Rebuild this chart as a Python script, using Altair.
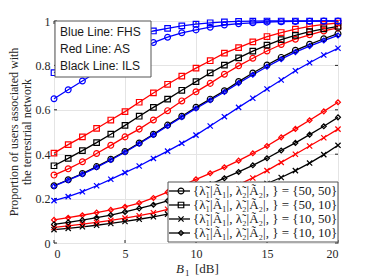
import altair as alt
import pandas as pd

# ---- data ----
b1_db = list(range(21))
x_ticks = [0, 5, 10, 15, 20]
y_ticks = [0, 0.2, 0.4, 0.6, 0.8, 1]

fhs_50_50 = [0.650, 0.690, 0.730, 0.770, 0.800, 0.835, 0.868, 0.903, 0.927, 0.947, 0.960,
             0.972, 0.982, 0.988, 0.992, 0.995, 0.997, 0.998, 0.999, 1.000, 1.000]
fhs_50_10 = [0.767, 0.800, 0.830, 0.860, 0.885, 0.908, 0.932, 0.955, 0.967, 0.978, 0.986,
             0.992, 0.996, 0.998, 0.999, 1.000, 1.000, 1.000, 1.000, 1.000, 1.000]
fhs_10_50 = [0.191, 0.209, 0.231, 0.258, 0.287, 0.317, 0.347, 0.381, 0.414, 0.449, 0.486,
             0.527, 0.569, 0.611, 0.652, 0.694, 0.734, 0.776, 0.812, 0.847, 0.877]
fhs_10_10 = [0.256, 0.283, 0.310, 0.341, 0.374, 0.409, 0.447, 0.487, 0.527, 0.567, 0.606,
             0.643, 0.680, 0.720, 0.758, 0.794, 0.828, 0.860, 0.887, 0.912, 0.935]

as_50_50 = [0.306, 0.334, 0.366, 0.403, 0.440, 0.478, 0.513, 0.554, 0.596, 0.640, 0.681,
            0.719, 0.760, 0.798, 0.832, 0.865, 0.894, 0.918, 0.938, 0.955, 0.969]
as_50_10 = [0.405, 0.443, 0.478, 0.516, 0.554, 0.592, 0.634, 0.676, 0.715, 0.752, 0.788,
            0.821, 0.855, 0.880, 0.906, 0.930, 0.948, 0.963, 0.976, 0.985, 0.991]
as_10_50 = [0.070, 0.077, 0.085, 0.093, 0.102, 0.112, 0.123, 0.136, 0.152, 0.170, 0.190,
            0.212, 0.236, 0.263, 0.293, 0.326, 0.363, 0.400, 0.437, 0.474, 0.513]
as_10_10 = [0.104, 0.114, 0.125, 0.137, 0.149, 0.163, 0.180, 0.203, 0.229, 0.258, 0.287,
            0.314, 0.341, 0.371, 0.404, 0.437, 0.476, 0.514, 0.553, 0.593, 0.634]

ils_50_50 = [0.258, 0.285, 0.313, 0.344, 0.377, 0.412, 0.450, 0.490, 0.531, 0.571, 0.611,
             0.648, 0.686, 0.727, 0.766, 0.802, 0.836, 0.868, 0.895, 0.920, 0.943]
ils_50_10 = [0.348, 0.381, 0.416, 0.452, 0.490, 0.530, 0.571, 0.611, 0.648, 0.688, 0.727,
             0.766, 0.801, 0.834, 0.864, 0.891, 0.916, 0.935, 0.952, 0.965, 0.976]
ils_10_50 = [0.060, 0.066, 0.073, 0.080, 0.088, 0.097, 0.107, 0.118, 0.130, 0.143, 0.158,
             0.175, 0.194, 0.220, 0.243, 0.268, 0.295, 0.326, 0.360, 0.398, 0.440]
ils_10_10 = [0.084, 0.093, 0.103, 0.114, 0.126, 0.140, 0.156, 0.172, 0.190, 0.211, 0.237,
             0.264, 0.292, 0.320, 0.350, 0.382, 0.417, 0.451, 0.488, 0.526, 0.566]

schemes = ["AS", "ILS", "FHS"]          # drawing order: red, black, blue
markers = ["c", "s", "x", "d"]          # {50,50}, {50,10}, {10,50}, {10,10}
values = {
    "AS": [as_50_50, as_50_10, as_10_50, as_10_10],
    "ILS": [ils_50_50, ils_50_10, ils_10_50, ils_10_10],
    "FHS": [fhs_50_50, fhs_50_10, fhs_10_50, fhs_10_10],
}
legend_labels = [
    "{λ̃₁|Ã₁|, λ̃₂|Ã₂|, } = {50, 50}",
    "{λ̃₁|Ã₁|, λ̃₂|Ã₂|, } = {50, 10}",
    "{λ̃₁|Ã₁|, λ̃₂|Ã₂|, } = {10, 50}",
    "{λ̃₁|Ã₁|, λ̃₂|Ã₂|, } = {10, 10}",
]
note_lines = ["Blue Line: FHS", "Red Line: AS", "Black Line: ILS"]
ytitle_lines = ["Proportion of users associated with", "the terrestrial network"]

rows = []
sid = 0
for sch in schemes:
    for mk, vals in zip(markers, values[sch]):
        for xv, yv in zip(b1_db, vals):
            rows.append({"x": xv, "y": yv, "scheme": sch, "marker": mk, "sid": sid})
        sid += 1
df = pd.DataFrame(rows)

# ---- layout ----
W, H = 284, 222
XMAX = 20.0
INK = "#262626"


def dx(px):
    return px / W * XMAX


def dy(py):
    return 1 - py / H


color_scale = alt.Scale(domain=["FHS", "AS", "ILS"], range=["#0000ff", "#ff0000", "#000000"])
X_PATH = "M-1,-1L1,1M1,-1L-1,1"
shape_scale = alt.Scale(domain=markers, range=["circle", "square", X_PATH, "diamond"])
size_scale = alt.Scale(domain=markers, range=[34, 24, 26, 40])
xs = alt.Scale(domain=[0, 20], nice=False, zero=False)
ys = alt.Scale(domain=[0, 1], nice=False)

X = alt.X("x:Q", scale=xs, axis=alt.Axis(values=x_ticks, title=None, labelPadding=5))
Y = alt.Y("y:Q", scale=ys, axis=alt.Axis(
    values=y_ticks, format="~g", labelPadding=4, title=None))

base = alt.Chart(df)
lines = base.mark_line(strokeWidth=1.3).encode(
    x=X, y=Y, color=alt.Color("scheme:N", scale=color_scale, legend=None), detail="sid:N")
points = base.mark_point(filled=False, strokeWidth=1.2, opacity=1).encode(
    x="x:Q", y="y:Q",
    color=alt.Color("scheme:N", scale=color_scale, legend=None),
    shape=alt.Shape("marker:N", scale=shape_scale, legend=None),
    size=alt.Size("marker:N", scale=size_scale, legend=None))

one = pd.DataFrame({"a": [0]})

# inward ticks on all four sides (MATLAB style box)
ytick_df = pd.DataFrame({"y": y_ticks})
xtick_df = pd.DataFrame({"x": x_ticks})
tick_l = alt.Chart(ytick_df).mark_rule(color=INK, strokeWidth=1).encode(
    y="y:Q", x=alt.value(0), x2=alt.value(3))
tick_r = alt.Chart(ytick_df).mark_rule(color=INK, strokeWidth=1).encode(
    y="y:Q", x=alt.value(W - 3), x2=alt.value(W))
tick_b = alt.Chart(xtick_df).mark_rule(color=INK, strokeWidth=1).encode(
    x="x:Q", y=alt.value(H - 3), y2=alt.value(H))
tick_t = alt.Chart(xtick_df).mark_rule(color=INK, strokeWidth=1).encode(
    x="x:Q", y=alt.value(0), y2=alt.value(3))

# y-axis title, two rotated lines
yt1 = alt.Chart(one).mark_text(text=ytitle_lines[0], angle=270, align="center", baseline="middle",
                               font="Liberation Serif", fontSize=12, color=INK).encode(
    x=alt.value(-40), y=alt.value(H / 2))
yt2 = alt.Chart(one).mark_text(text=ytitle_lines[1], angle=270, align="center", baseline="middle",
                               font="Liberation Serif", fontSize=12, color=INK).encode(
    x=alt.value(-27), y=alt.value(H / 2))

# annotation box top-left
note_box = alt.Chart(one).mark_rect(fill="white", stroke="#555555", strokeWidth=1).encode(
    x=alt.value(1), x2=alt.value(97), y=alt.value(0), y2=alt.value(56))
note_df = pd.DataFrame({"t": note_lines, "x": [dx(6)] * 3, "y": [dy(11 + 17 * i) for i in range(3)]})
note_text = alt.Chart(note_df).mark_text(
    align="left", baseline="middle", font="Liberation Sans", fontSize=12, color="#1a1a1a").encode(
    x="x:Q", y="y:Q", text="t:N")

# legend box bottom-right
leg_box = alt.Chart(one).mark_rect(fill="white", stroke="#555555", strokeWidth=1).encode(
    x=alt.value(114), x2=alt.value(284), y=alt.value(161), y2=alt.value(221))
leg_df = pd.DataFrame({
    "t": legend_labels, "marker": markers,
    "y": [dy(170 + 14 * i) for i in range(4)],
    "x1": [dx(115)] * 4, "x2": [dx(136)] * 4, "xm": [dx(127)] * 4, "xt": [dx(139)] * 4,
})
leg_lines = alt.Chart(leg_df).mark_rule(color="black", strokeWidth=1.3).encode(
    x="x1:Q", x2="x2:Q", y="y:Q")
leg_pts = alt.Chart(leg_df).mark_point(filled=False, color="black", strokeWidth=1.2, opacity=1).encode(
    x="xm:Q", y="y:Q",
    shape=alt.Shape("marker:N", scale=shape_scale, legend=None),
    size=alt.Size("marker:N", scale=size_scale, legend=None))
leg_text = alt.Chart(leg_df).mark_text(
    align="left", baseline="middle", font="Liberation Serif", fontSize=13, color="#1a1a1a").encode(
    x="xt:Q", y="y:Q", text="t:N")

# x-axis title  B_1 [dB]
xt_B = alt.Chart(one).mark_text(text="B", align="left", baseline="alphabetic", font="Liberation Serif",
                                fontSize=13, fontStyle="italic", color=INK).encode(
    x=alt.value(122), y=alt.value(252))
xt_1 = alt.Chart(one).mark_text(text="1", align="left", baseline="alphabetic", font="Liberation Serif",
                                fontSize=9, color=INK).encode(
    x=alt.value(131), y=alt.value(255))
xt_db = alt.Chart(one).mark_text(text="[dB]", align="left", baseline="alphabetic", font="Liberation Serif",
                                 fontSize=13, color=INK).encode(
    x=alt.value(141), y=alt.value(252))

chart = alt.layer(
    tick_l, tick_r, tick_b, tick_t,
    lines, points, note_box, note_text, leg_box, leg_lines, leg_pts, leg_text,
    yt1, yt2, xt_B, xt_1, xt_db
).properties(
    width=W, height=H,
    autosize=alt.AutoSizeParams(type="none"),
    padding={"left": 46, "top": 13, "right": 28, "bottom": 37},
).configure_view(
    stroke=INK, strokeWidth=1
).configure_axis(
    domain=False, ticks=False, grid=True, gridColor="#e4e4e4", gridWidth=1,
    labelFont="Liberation Serif", labelFontSize=12, labelColor=INK,
)

chart.save("out.html", embed_options={"renderer": "svg", "actions": False})
